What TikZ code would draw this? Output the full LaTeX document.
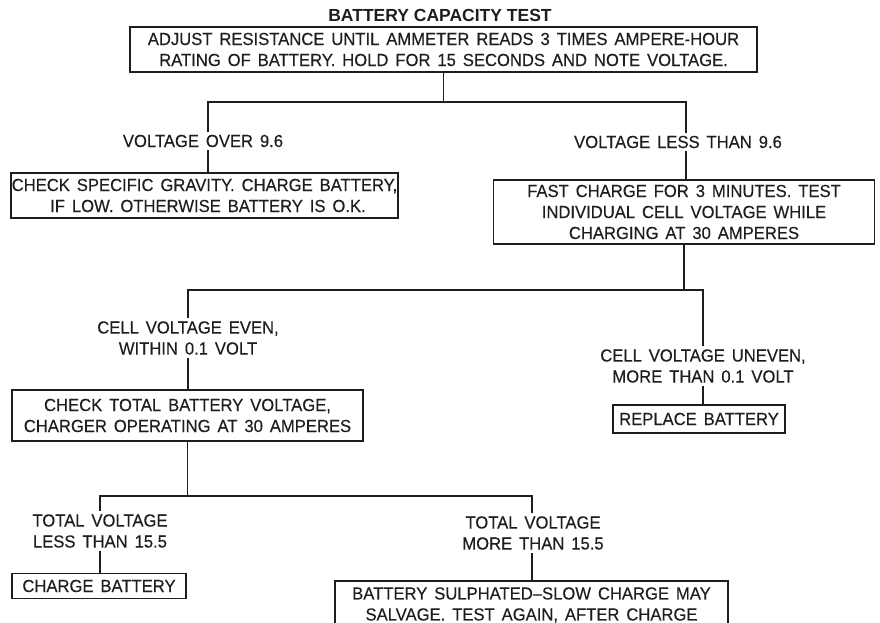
\documentclass[tikz,border=0pt]{standalone}
\usepackage{fontspec}
\setmainfont{Liberation Sans}
\newfontfamily\chartfont{Liberation Sans}[Ligatures=TeX, FakeStretch=0.95, FakeBold=0.3, WordSpace=1.5]
\usepackage{tikz}
\usetikzlibrary{calc}
\definecolor{ink}{HTML}{1E1E1E}

\begin{document}
\begin{tikzpicture}[
    x=1pt, y=-1pt,
    stepbox/.style={draw=ink, line width=1.7pt, text=ink, align=center,
      inner sep=0pt, font=\chartfont\fontsize{17.5}{21}\selectfont},
    cond/.style={text=ink, align=center, inner sep=3pt,
      font=\chartfont\fontsize{17.5}{21}\selectfont},
    wire/.style={draw=ink, line width=1.7pt}
  ]
  \useasboundingbox (0,0) rectangle (880,623);

  % title and first test
  \node[text=ink, font=\bfseries\fontsize{17.5}{20}\selectfont] (title) at (440,15) {BATTERY CAPACITY TEST};
  \node[stepbox, minimum width=627pt, minimum height=45pt] (adjust) at (443.5,49.5)
    {ADJUST RESISTANCE UNTIL AMMETER READS 3 TIMES AMPERE-HOUR\\
     RATING OF BATTERY. HOLD FOR 15 SECONDS AND NOTE VOLTAGE.};

  % first split
  \coordinate (s1l) at (208,102);
  \coordinate (s1r) at (686,102);
  \node[cond] (over) at (203,141) {VOLTAGE OVER 9.6};
  \node[cond] (less) at (678,142) {VOLTAGE LESS THAN 9.6};
  \node[stepbox, minimum width=387pt, minimum height=45pt] (gravity) at (204.5,195.5)
    {CHECK SPECIFIC GRAVITY. CHARGE BATTERY,\\
     \ IF LOW. OTHERWISE BATTERY IS O.K.};
  \node[stepbox, minimum width=381pt, minimum height=64pt] (fast) at (684,212)
    {FAST CHARGE FOR 3 MINUTES. TEST\\
     INDIVIDUAL CELL VOLTAGE WHILE\\
     CHARGING AT 30 AMPERES};
  \draw[wire] (adjust.south) -- (adjust.south |- s1l);
  \draw[wire] (s1l |- over.north) -- (s1l) -- (s1r) -- (s1r |- less.north);
  \draw[wire] (s1l |- over.south) -- (s1l |- gravity.north);
  \draw[wire] (s1r |- less.south) -- (s1r |- fast.north);

  % second split
  \coordinate (s2l) at (188,290);
  \coordinate (s2r) at (703,290);
  \node[cond] (even) at (188,338) {CELL VOLTAGE EVEN,\\ WITHIN 0.1 VOLT};
  \node[cond] (uneven) at (703,366) {CELL VOLTAGE UNEVEN,\\ MORE THAN 0.1 VOLT};
  \node[stepbox, minimum width=351pt, minimum height=51pt] (total) at (187.5,415.5)
    {CHECK TOTAL BATTERY VOLTAGE,\\
     CHARGER OPERATING AT 30 AMPERES};
  \node[stepbox, minimum width=172pt, minimum height=28pt] (replace) at (699,419)
    {REPLACE BATTERY};
  \draw[wire] (fast.south) -- (fast.south |- s2l);
  \draw[wire] (s2l |- even.north) -- (s2l) -- (s2r) -- (s2r |- uneven.north);
  \draw[wire] (s2l |- even.south) -- (s2l |- total.north);
  \draw[wire] (s2r |- uneven.south) -- (s2r |- replace.north);

  % third split
  \coordinate (s3l) at (100,496);
  \coordinate (s3r) at (532,496);
  \node[cond] (low) at (100,531) {TOTAL VOLTAGE\\ LESS THAN 15.5};
  \node[cond] (high) at (533,533) {TOTAL VOLTAGE\\ MORE THAN 15.5};
  \node[stepbox, minimum width=174pt, minimum height=25pt] (charge) at (99,586)
    {CHARGE BATTERY};
  \node[stepbox, minimum width=393pt, minimum height=48pt] (sulph) at (531.5,605)
    {BATTERY SULPHATED--SLOW CHARGE MAY\\
     SALVAGE. TEST AGAIN, AFTER CHARGE};
  \draw[wire] (total.south) -- (total.south |- s3l);
  \draw[wire] (s3l |- low.north) -- (s3l) -- (s3r) -- (s3r |- high.north);
  \draw[wire] (s3l |- low.south) -- (s3l |- charge.north);
  \draw[wire] (s3r |- high.south) -- (s3r |- sulph.north);
\end{tikzpicture}
\end{document}
